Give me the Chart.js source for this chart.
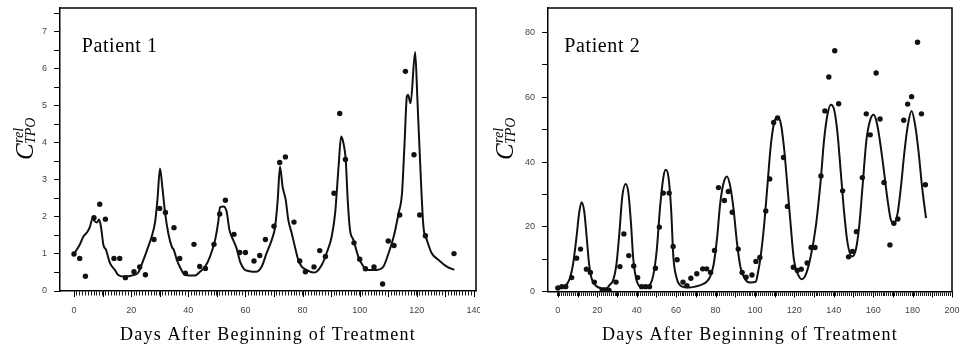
<!DOCTYPE html>
<html>
<head>
<meta charset="utf-8">
<script src="https://cdn.jsdelivr.net/npm/chart.js@4/dist/chart.umd.min.js"></script>
<style>
  html, body { margin: 0; padding: 0; background: #fff; }
  #wrap { position: relative; width: 961px; height: 353px; overflow: hidden; }
  canvas { position: absolute; top: 0; }
</style>
</head>
<body>
<div id="wrap">
  <canvas id="c1" width="480" height="353" style="left:0"></canvas>
  <canvas id="c2" width="481" height="353" style="left:480px"></canvas>
</div>
<script>
// ---------- Patient 1 ----------
const p1Days = [0,2,4,7,9,11,14,16,18,21,23,25,28,30,32,35,37,39,42,44,46,49,51,53,56,58,60,63,65,67,70,72,74,77,79,81,84,86,88,91,93,95,98,100,102,105,108,110,112,114,116,119,121,123,133];
const p1Values = [1.00,0.88,0.40,1.98,2.34,1.94,0.88,0.88,0.36,0.52,0.65,0.44,1.39,2.23,2.12,1.71,0.88,0.48,1.26,0.66,0.61,1.26,2.08,2.45,1.53,1.04,1.04,0.81,0.96,1.39,1.75,3.47,3.62,1.86,0.81,0.52,0.65,1.09,0.93,2.64,4.79,3.55,1.30,0.86,0.60,0.65,0.19,1.35,1.23,2.05,5.93,3.68,2.05,1.49,1.01];
const p1ModelDays = [0,2,3.3,4.7,5.6,6.5,7.3,8.0,8.8,9.5,10.3,11.2,12.6,14.3,15.5,17.3,20.8,22.5,24.3,26.0,27.2,28.4,29.2,30.1,30.9,31.9,33.0,34.2,35,36.0,37.1,38.5,40.0,42.4,44.1,45.9,47.6,49.4,50.5,51.1,52.3,53.4,54.4,55.7,56.9,58.1,59.5,61,62.7,63.9,65.7,67.4,69.2,70.4,71.3,72.1,73.0,74.1,75.0,76.2,77.3,78.5,79.7,81.4,83.8,84.9,86.7,88.4,90.2,91.4,92.6,93.5,94.3,95.1,95.8,96.6,97.8,99.5,101.3,102.4,105.9,108.3,110.1,111.9,113.6,114.8,115.7,116.5,116.9,117.8,119.4,120.2,120.9,122.3,123.5,125.2,127.6,130.5,133.1];
const p1ModelValues = [1.00,1.25,1.47,1.60,1.74,1.96,1.88,1.85,1.93,1.70,1.24,1.11,0.75,0.57,0.43,0.39,0.43,0.50,0.84,1.20,1.47,1.87,2.46,3.31,2.82,2.10,1.56,1.20,1.10,0.84,0.64,0.46,0.42,0.42,0.52,0.66,0.93,1.38,1.87,2.26,2.28,2.15,1.65,1.38,1.15,0.80,0.59,0.54,0.52,0.52,0.66,1.02,1.38,1.74,2.46,3.36,2.82,2.46,1.92,1.56,1.20,0.84,0.66,0.57,0.50,0.52,0.70,1.02,1.47,2.10,3.36,4.17,3.99,3.55,2.46,1.65,1.38,0.93,0.66,0.57,0.57,0.66,1.02,1.47,2.10,2.64,4.00,5.25,5.30,5.07,6.45,5.16,3.90,1.74,1.38,1.02,0.84,0.66,0.57];
const p1XLabelStep = 20;
const p1XTickEnd = 140;
const p1YLabels = [0,1,2,3,4,5,6,7];
const p1YTickStep = 0.5;

// ---------- Patient 2 ----------
const p2Days = [0,2,4,7,9.5,11.5,14.5,16.5,18.5,22.5,24.5,26,29.5,31.5,33.5,36,38.5,40.5,42.5,44.5,46.5,49.5,51.5,53.5,56.5,58.5,60.5,63.5,65.5,67.5,70.5,73.5,75.5,77.5,79.5,81.5,84.5,86.5,88.5,91.5,93.5,95.5,98.5,100.5,102.5,105.5,107.5,109.5,111.5,114.5,116.5,119.5,121.5,123.5,126.5,128.5,130.5,133.5,135.5,137.5,140.5,142.5,144.5,147.5,149.5,151.5,154.5,156.5,158.5,161.5,163.5,165.5,168.5,170.5,172.5,175.5,177.5,179.5,182.5,184.5,186.5];
const p2Values = [1.1,1.5,1.5,4.3,10.3,13.1,6.9,5.9,2.9,0.3,0.3,0.3,2.9,7.7,17.8,11.1,7.9,4.3,1.5,1.5,1.5,7.2,19.9,30.4,30.4,13.9,9.8,2.9,1.8,4.1,5.5,7.0,7.0,5.9,12.7,32.1,28.1,30.9,24.5,13.1,5.9,4.4,5.1,9.3,10.5,24.9,34.8,52.2,53.6,41.4,26.3,7.5,6.5,6.9,8.8,13.6,13.6,35.7,55.8,66.3,74.4,58.0,31.1,10.7,12.4,18.5,35.2,54.9,48.4,67.5,53.3,33.7,14.4,21.1,22.4,52.9,57.9,60.2,77.0,54.9,33.0];
const p2ModelDays = [0.2,3.6,6.1,7.8,9.5,10.8,12.0,13.4,14.6,15.8,17.1,18.8,22.2,24.7,26.4,28.1,29.8,31.2,32.7,34.4,35.8,37.1,38.3,39.7,41.7,44.2,46.8,48.5,50.2,51.9,53.6,54.7,56.1,57.5,58.6,60.3,62.9,66.3,69.7,73.0,75.6,77.3,79.0,80.7,82.4,84.1,85.8,87.5,89.2,90.9,92.6,94.3,95.8,97.8,100.4,101.5,102.9,104.6,106.3,108.0,109.7,111.4,113.1,114.7,116.5,118.2,119.8,121.9,123.8,125.8,128.3,130.9,133.4,135.1,136.8,138.5,140.2,141.9,143.6,145.3,147.0,149.2,151.2,152.9,154.6,156.6,158.5,160.2,161.9,163.6,165.6,167.3,169.0,170.7,172.4,174.1,175.8,177.5,179.5,181.4,183.1,184.8,186.8];
const p2ModelValues = [1.0,1.6,4.1,8.8,17.0,24.2,27.6,24.7,17.0,8.8,4.1,2.1,1.0,1.0,2.1,3.6,8.8,18.0,29.3,33.2,30.4,21.1,9.8,4.1,1.5,1.2,2.1,5.2,12.9,26.3,35.5,37.6,35.5,25.2,10.8,4.1,1.6,1.2,1.5,2.1,3.1,4.6,8.2,16.0,27.3,33.5,35.5,32.4,25.2,15.0,7.7,4.6,3.2,2.8,3.0,5.7,10.8,20.1,32.4,44.8,52.0,53.9,52.0,44.8,32.4,20.1,9.8,5.2,3.8,5.2,10.8,20.1,34.5,46.9,54.6,57.7,56.2,48.9,36.6,24.2,15.0,10.8,12.9,20.1,32.4,46.9,53.0,54.6,52.0,45.8,36.6,28.3,22.1,21.1,24.2,32.4,42.8,51.0,55.8,51.0,42.8,32.4,22.7];
const p2XLabelStep = 20;
const p2XTickEnd = 200;
const p2YLabels = [0,20,40,60,80];
const p2YTickStep = 10;

const xTitle = 'Days After Beginning of Treatment';

function toXY(xs, ys) { return xs.map((x, i) => ({ x: x, y: ys[i] })); }
function range(start, end, step) { const r = []; for (let v = start; v <= end + 1e-9; v += step) r.push(Math.round(v * 1000) / 1000); return r; }

const panelSettings = {};

const decorPlugin = {
  id: 'decor',
  afterDraw(chart) {
    const o = panelSettings[chart.canvas.id];
    const ctx = chart.ctx;
    const a = chart.chartArea;
    const xs = chart.scales.x;
    ctx.save();
    // frame top / right
    ctx.strokeStyle = '#000';
    ctx.lineWidth = 1.5;
    ctx.beginPath();
    ctx.moveTo(a.left, a.top);
    ctx.lineTo(a.right, a.top);
    ctx.lineTo(a.right, a.bottom);
    ctx.stroke();
    // longer marks every 10 days
    ctx.lineWidth = 1;
    ctx.strokeStyle = '#000';
    ctx.beginPath();
    for (let d = 0; d <= o.xEnd; d += 10) {
      const px = Math.round(xs.getPixelForValue(d)) + 0.5;
      ctx.moveTo(px, a.bottom);
      ctx.lineTo(px, a.bottom + 6);
    }
    ctx.stroke();
    // panel label
    ctx.fillStyle = '#000';
    ctx.font = '20px "Liberation Serif"';
    ctx.textBaseline = 'alphabetic';
    ctx.textAlign = 'left';
    try { ctx.letterSpacing = '0.6px'; } catch (e) {}
    ctx.fillText(o.label, o.labelX, 51.5);
    // x-axis title
    ctx.font = '18px "Liberation Serif"';
    try { ctx.letterSpacing = '1.2px'; } catch (e) {}
    ctx.textAlign = 'center';
    ctx.fillText(xTitle, (a.left + a.right) / 2, 340);
    try { ctx.letterSpacing = '0px'; } catch (e) {}
    // y-axis title  C^{rel}_{TPO}
    ctx.translate(33, 160);
    ctx.rotate(-Math.PI / 2);
    ctx.textAlign = 'left';
    ctx.textBaseline = 'alphabetic';
    ctx.font = 'italic 25px "Liberation Serif"';
    ctx.fillText('C', 0, 0);
    ctx.font = 'italic 14px "Liberation Serif"';
    ctx.fillText('rel', 17, -10);
    ctx.fillText('TPO', 16, 1.5);
    ctx.restore();
  }
};

function makeChart(id, cfg) {
  panelSettings[id] = { label: cfg.label, labelX: cfg.labelX, xEnd: cfg.xTickEnd };
  const tickFont = { family: '"Liberation Sans", Arial, sans-serif', size: 9 };
  const xTickValues = range(0, cfg.xTickEnd, 1);
  const yTickValues = range(0, cfg.yMax, cfg.yTickStep);
  return new Chart(document.getElementById(id), {
    type: 'scatter',
    data: {
      datasets: [
        { data: toXY(cfg.modelDays, cfg.modelValues), showLine: true, borderColor: '#111', borderWidth: 2, pointRadius: 0, cubicInterpolationMode: 'monotone', fill: false, order: 2 },
        { data: toXY(cfg.days, cfg.values), showLine: false, pointRadius: 2.7, pointBackgroundColor: '#111', pointBorderWidth: 0, order: 1 }
      ]
    },
    options: {
      responsive: false,
      animation: false,
      devicePixelRatio: 1,
      layout: { padding: { left: 0, top: 8, right: cfg.padRight, bottom: 0 } },
      plugins: { legend: { display: false }, tooltip: { enabled: false } },
      scales: {
        x: {
          type: 'linear',
          min: cfg.xMin, max: cfg.xMax,
          afterBuildTicks: s => { s.ticks = xTickValues.map(v => ({ value: v })); },
          afterFit: s => { s.height = cfg.xHeight; s.paddingLeft = 0; s.paddingRight = 0; },
          grid: { drawOnChartArea: false, drawTicks: true, tickLength: 4.5, color: '#1a1a1a', lineWidth: 1 },
          border: { display: true, color: '#000', width: 1.5 },
          ticks: { padding: 9.5, font: tickFont, color: '#444', autoSkip: false, maxRotation: 0,
            callback: v => (v % cfg.xLabelStep === 0 ? String(v) : '') }
        },
        y: {
          type: 'linear',
          min: 0, max: cfg.yMax,
          afterBuildTicks: s => { s.ticks = yTickValues.map(v => ({ value: v })); },
          afterFit: s => { s.width = cfg.yWidth; s.paddingTop = 0; s.paddingBottom = 0; },
          grid: { drawOnChartArea: false, drawTicks: true, tickLength: 6, color: '#000', lineWidth: 1 },
          border: { display: true, color: '#000', width: 1.5 },
          ticks: { padding: 7, font: tickFont, color: '#444', autoSkip: false,
            callback: v => (cfg.yLabels.includes(v) ? String(v) : '') }
        }
      }
    },
    plugins: [decorPlugin]
  });
}

makeChart('c1', {
  days: p1Days, values: p1Values, modelDays: p1ModelDays, modelValues: p1ModelValues,
  xLabelStep: p1XLabelStep, xTickEnd: p1XTickEnd, yLabels: p1YLabels, yTickStep: p1YTickStep,
  xMin: -4.9, xMax: 140.7, yMax: 7.64,
  padRight: 4, yWidth: 60, xHeight: 62, label: 'Patient 1', labelX: 81.7
});
makeChart('c2', {
  days: p2Days, values: p2Values, modelDays: p2ModelDays, modelValues: p2ModelValues,
  xLabelStep: p2XLabelStep, xTickEnd: p2XTickEnd, yLabels: p2YLabels, yTickStep: p2YTickStep,
  xMin: -5, xMax: 200, yMax: 87.6,
  padRight: 9, yWidth: 68, xHeight: 61.5, label: 'Patient 2', labelX: 84.3
});
</script>
</body>
</html>
